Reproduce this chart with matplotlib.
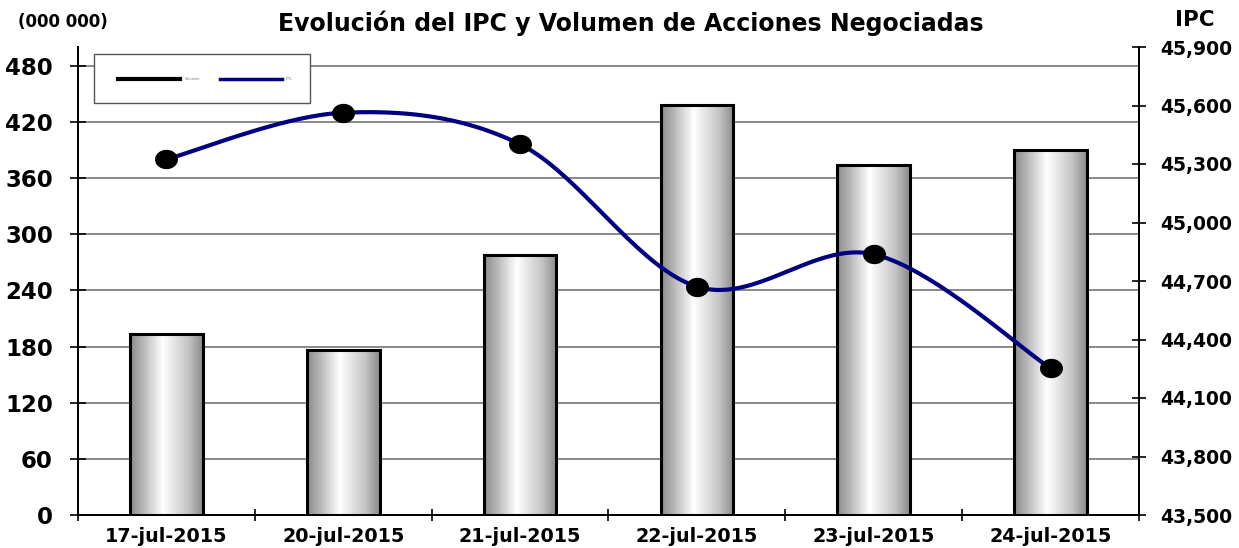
import numpy as np
import matplotlib
matplotlib.use("Agg")
import matplotlib.pyplot as plt
from matplotlib.colors import LinearSegmentedColormap
from matplotlib.patches import Rectangle
from matplotlib.lines import Line2D
from matplotlib.path import Path
from matplotlib.ticker import FuncFormatter, FixedLocator

# ---------------- data ----------------
dates = ["17-jul-2015", "20-jul-2015", "21-jul-2015", "22-jul-2015", "23-jul-2015", "24-jul-2015"]
volume = [193.2, 176.4, 278.0, 437.6, 373.4, 389.5]          # millions of shares
ipc = [45324, 45563, 45401, 44671, 44837, 44252]              # IPC index
left_ticks = [0, 60, 120, 180, 240, 300, 360, 420, 480]
right_ticks = [43500, 43800, 44100, 44400, 44700, 45000, 45300, 45600, 45900]
title = "Evolución del IPC y Volumen de Acciones Negociadas"

FONT = "DejaVu Sans"

fig = plt.figure(figsize=(12.39, 5.48), dpi=100)
fig.patch.set_facecolor("white")
ax = fig.add_axes([78 / 1239, 33 / 548, (1139 - 78) / 1239, (515 - 47) / 548])
ax2 = ax.twinx()

n = len(dates)
x = np.arange(n)

# gridlines (left axis)
for v in left_ticks[1:]:
    ax.axhline(v, color="#808080", lw=1.3, zorder=0)

# gradient bars
cmap = LinearSegmentedColormap.from_list(
    "cyl", [(0.0, "#8a8a8a"), (0.15, "#b0b0b0"), (0.45, "#ffffff"), (0.8, "#c4c4c4"), (1.0, "#8a8a8a")])
grad = np.linspace(0, 1, 256).reshape(1, -1)
bw = 0.41
bars = ax.bar(x, volume, width=bw, facecolor="none", edgecolor="black",
              linewidth=2.2, zorder=3)
for b in bars:
    x0, y0 = b.get_x(), b.get_y()
    w, h = b.get_width(), b.get_height()
    im = ax.imshow(grad, cmap=cmap, aspect="auto", extent=(x0, x0 + w, y0, y0 + h),
                   zorder=2, interpolation="bicubic")
    clip = Rectangle((x0, y0), w, h, transform=ax.transData)
    im.set_clip_path(clip)
ax.set_xlim(-0.5, n - 0.5)
ax.set_ylim(0, 500)
ax2.set_ylim(43500, 45900)


# smoothed line (Excel-like Bezier smoothing through the data points)
def smooth(xs, ys, steps=40):
    P = np.column_stack([xs, ys]).astype(float)
    m = len(P)
    out = [P[0]]
    t = np.linspace(0, 1, steps)[1:, None]
    for i in range(m - 1):
        p0 = P[i - 1] if i > 0 else P[i]
        p1, p2 = P[i], P[i + 1]
        p3 = P[i + 2] if i + 2 < m else P[i + 1]
        c1 = p1 + (p2 - p0) / 6.0
        c2 = p2 - (p3 - p1) / 6.0
        seg = ((1 - t) ** 3) * p1 + 3 * ((1 - t) ** 2) * t * c1 + 3 * (1 - t) * t ** 2 * c2 + t ** 3 * p2
        out.extend(seg)
    out = np.array(out)
    return out[:, 0], out[:, 1]


sx, sy = smooth(x, ipc)
ax2.plot(sx, sy, color="#000080", lw=3.0, zorder=4, solid_capstyle="round")
theta = np.linspace(0, 2 * np.pi, 60)
ell = Path(np.column_stack([1.2 * np.cos(theta), np.sin(theta)]), closed=True)
ax2.plot(x, ipc, linestyle="none", marker=ell, markersize=15.5, color="black", zorder=5)

# spines
for a in (ax, ax2):
    a.spines["top"].set_visible(False)
    for s in ("left", "right", "bottom"):
        a.spines[s].set_linewidth(1.4)
        a.spines[s].set_color("black")

# ticks
ax.yaxis.set_major_locator(FixedLocator(left_ticks))
ax.tick_params(axis="y", direction="inout", length=12, width=1.2, pad=12,
               labelsize=16.5, colors="black")
ax2.yaxis.set_major_locator(FixedLocator(right_ticks))
ax2.yaxis.set_major_formatter(FuncFormatter(lambda v, p: f"{int(round(v)):,}"))
ax2.tick_params(axis="y", direction="inout", length=10, width=1.2, pad=10.5,
                labelsize=13.5, colors="black")

ax.set_xticks(np.arange(n + 1) - 0.5)
ax.set_xticklabels([])
ax.set_xticks(x, minor=True)
ax.set_xticklabels(dates, minor=True)
ax.tick_params(axis="x", which="major", direction="inout", length=9, width=1.2)
ax.tick_params(axis="x", which="minor", length=0, pad=8.5, labelsize=13.8)

for lab in ax.get_yticklabels() + ax2.get_yticklabels() + ax.get_xticklabels(minor=True):
    lab.set_fontweight("bold")
    lab.set_family(FONT)

# legend box (manual)
lx0, lx1 = (94 - 78) / 1061, (310 - 78) / 1061
ly0, ly1 = (515 - 103) / 468, (515 - 54) / 468
ax2.add_patch(Rectangle((lx0, ly0), lx1 - lx0, ly1 - ly0, transform=ax2.transAxes,
                        facecolor="white", edgecolor="#555555", lw=1.0, zorder=6))
ly = (515 - 79) / 468
ax2.add_line(Line2D([(118 - 78) / 1061, (180 - 78) / 1061], [ly, ly], transform=ax2.transAxes,
                    color="black", lw=3.0, zorder=7))
ax2.add_line(Line2D([(220 - 78) / 1061, (282 - 78) / 1061], [ly, ly], transform=ax2.transAxes,
                    color="#000080", lw=2.5, zorder=7))
ax2.text((185 - 78) / 1061, ly, "Volumen", transform=ax2.transAxes, fontsize=2.5,
         color="#777777", va="center", ha="left", zorder=7)
ax2.text((286 - 78) / 1061, ly, "IPC", transform=ax2.transAxes, fontsize=3.2,
         color="#777777", va="center", ha="left", zorder=7)

# titles
fig.text(631 / 1239, 1 - 23 / 548, title, ha="center", va="center",
         fontsize=17, fontweight="bold", family=FONT)
fig.text(63 / 1239, 1 - 22 / 548, "(000 000)", ha="center", va="center",
         fontsize=12, fontweight="bold", family=FONT)
fig.text(1195 / 1239, 1 - 20 / 548, "IPC", ha="center", va="center",
         fontsize=15.5, fontweight="bold", family=FONT)

fig.savefig("out.png", dpi=100, facecolor="white")
